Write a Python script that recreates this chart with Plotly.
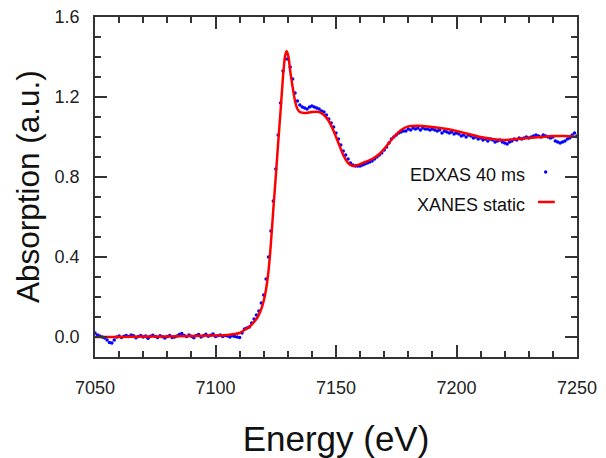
import plotly.graph_objects as go

# ---- data ----
edxas_energy = list(range(7050, 7251))
edxas_abs = [
    0.02, 0.01, 0.005, 0.0, -0.005, -0.015, -0.028, -0.03, -0.015, 0.0,
    0.005, -0.002, 0.004, 0.008, 0.003, 0.01, 0.006, -0.004, 0.002, 0.008,
    0.0, 0.005, -0.006, 0.004, 0.009, 0.002, -0.003, 0.006, 0.001, -0.005,
    0.003, 0.007, -0.002, 0.0, 0.005, 0.012, 0.018, 0.008, 0.002, 0.01,
    0.004, -0.004, 0.008, 0.012, 0.0, 0.006, 0.014, 0.004, 0.009, 0.015,
    0.003, 0.006, 0.01, 0.002, 0.008, 0.005, 0.0, 0.006, 0.002, 0.0,
    -0.002, 0.02, 0.04, 0.045, 0.05, 0.07, 0.09, 0.11, 0.13, 0.17,
    0.21, 0.29, 0.40, 0.53, 0.68, 0.84, 1.01, 1.17, 1.33, 1.39,
    1.39, 1.35, 1.29, 1.22, 1.18, 1.16, 1.15, 1.145, 1.14, 1.15,
    1.155, 1.15, 1.145, 1.14, 1.13, 1.125, 1.11, 1.09, 1.07, 1.05,
    1.02, 0.99, 0.96, 0.93, 0.91, 0.89, 0.87, 0.86, 0.855, 0.855,
    0.855, 0.86, 0.865, 0.87, 0.875, 0.88, 0.89, 0.9, 0.91, 0.92,
    0.935, 0.95, 0.97, 0.99, 1.0, 1.01, 1.02, 1.025, 1.03, 1.03,
    1.04, 1.035, 1.045, 1.04, 1.045, 1.035, 1.045, 1.04, 1.04, 1.035,
    1.04, 1.035, 1.03, 1.035, 1.02, 1.03, 1.025, 1.02, 1.025, 1.015,
    1.02, 1.015, 1.005, 1.01, 1.0, 1.01, 1.005, 0.995, 1.0, 0.99,
    0.995, 0.985, 0.99, 0.98, 0.99, 0.985, 0.975, 0.98, 0.985, 0.975,
    0.97, 0.965, 0.975, 0.98, 0.99, 0.985, 0.995, 0.99, 0.995, 1.0,
    0.995, 1.0, 1.005, 1.01, 1.005, 1.0, 1.01, 1.005, 1.0, 0.995,
    1.0, 0.98, 0.975, 0.97, 0.975, 0.98, 0.99, 0.995, 1.01, 1.02,
    1.005,
]

xanes_energy = [7050, 7060, 7070, 7080, 7090, 7100, 7105, 7108, 7110, 7112,
                7114, 7116, 7117.5, 7119, 7120, 7121, 7122, 7123, 7124, 7125,
                7126, 7127, 7128, 7128.8, 7129.5, 7130.3, 7131, 7132, 7133, 7134,
                7135, 7137, 7140, 7143, 7145, 7147, 7149, 7151, 7153, 7155,
                7157, 7159, 7162, 7165, 7168, 7171, 7174, 7177, 7180, 7184,
                7190, 7196, 7200, 7205, 7210, 7215, 7220, 7225, 7230, 7235,
                7240, 7245, 7250]
xanes_abs = [0.0, 0.0, 0.002, 0.003, 0.005, 0.007, 0.01, 0.015, 0.02, 0.035,
             0.05, 0.075, 0.1, 0.14, 0.18, 0.24, 0.33, 0.47, 0.64, 0.8,
             0.97, 1.13, 1.30, 1.40, 1.43, 1.40, 1.33, 1.25, 1.18, 1.14,
             1.125, 1.12, 1.125, 1.125, 1.11, 1.08, 1.03, 0.97, 0.91, 0.87,
             0.855, 0.86, 0.875, 0.89, 0.915, 0.955, 1.0, 1.035, 1.053, 1.056,
             1.05, 1.04, 1.03, 1.015, 1.0, 0.99, 0.985, 0.99, 0.995, 1.0,
             1.005, 1.005, 1.0]

legend_labels = ["EDXAS 40 ms", "XANES static"]
x_ticks = [7050, 7100, 7150, 7200, 7250]
y_ticks = [0.0, 0.4, 0.8, 1.2, 1.6]

FONT = "Liberation Sans, Arial, Helvetica, sans-serif"
AXC = "#333333"

fig = go.Figure()
fig.add_trace(go.Scatter(x=edxas_energy, y=edxas_abs, mode="markers",
                         marker=dict(color="#0000ff", size=3.5),
                         name=legend_labels[0], showlegend=False))
fig.add_trace(go.Scatter(x=xanes_energy, y=xanes_abs, mode="lines",
                         line=dict(color="#ff0000", width=2.5, shape="spline", smoothing=0.6),
                         name=legend_labels[1], showlegend=False))

axis_common = dict(showline=True, linecolor=AXC, linewidth=1.5, mirror="allticks",
                   ticks="inside", ticklen=12, tickwidth=1.5, tickcolor=AXC,
                   showgrid=False, zeroline=False, automargin=False,
                   tickfont=dict(family=FONT, size=18, color="#222222"))

fig.update_xaxes(range=[7050, 7250], tickvals=x_ticks, ticktext=[str(v) for v in x_ticks],
                 minor=dict(dtick=10, tick0=7050, ticks="inside", ticklen=6, tickwidth=1.5,
                            tickcolor=AXC, showgrid=False),
                 ticklabelstandoff=14,
                 title=dict(text="Energy (eV)", font=dict(family=FONT, size=35, color="#111111"),
                            standoff=30),
                 **axis_common)
fig.update_yaxes(range=[-0.1, 1.6], tickvals=y_ticks, ticktext=[f"{v:.1f}" for v in y_ticks],
                 minor=dict(dtick=0.1, tick0=0, ticks="inside", ticklen=6, tickwidth=1.5,
                            tickcolor=AXC, showgrid=False),
                 ticklabelstandoff=10,
                 **axis_common)

# y-axis title as rotated annotation (centred on the plot area)
fig.add_annotation(x=-0.139, y=0.5, xref="paper", yref="paper", text="Absorption (a.u.)",
                   textangle=-90, showarrow=False, xanchor="center", yanchor="middle",
                   font=dict(family=FONT, size=31.5, color="#111111"))

# manual legend (symbol to the right of the text)
fig.add_annotation(x=0.896, y=0.535, xref="paper", yref="paper", text=legend_labels[0],
                   showarrow=False, xanchor="right", yanchor="middle",
                   font=dict(family=FONT, size=18, color="#111111"))
fig.add_annotation(x=0.896, y=0.447, xref="paper", yref="paper", text=legend_labels[1],
                   showarrow=False, xanchor="right", yanchor="middle",
                   font=dict(family=FONT, size=18, color="#111111"))
fig.add_shape(type="circle", xref="paper", yref="paper",
              x0=0.935 - 0.0035, x1=0.935 + 0.0035, y0=0.544 - 0.005, y1=0.544 + 0.005,
              fillcolor="#0000ff", line=dict(width=0))
fig.add_shape(type="line", xref="paper", yref="paper", x0=0.919, x1=0.954, y0=0.456, y1=0.456,
              line=dict(color="#ff0000", width=2.5))

fig.update_layout(width=606, height=458, margin=dict(l=95, r=29, t=17, b=101),
                  paper_bgcolor="white", plot_bgcolor="white", showlegend=False)

fig.write_html("out.html")
